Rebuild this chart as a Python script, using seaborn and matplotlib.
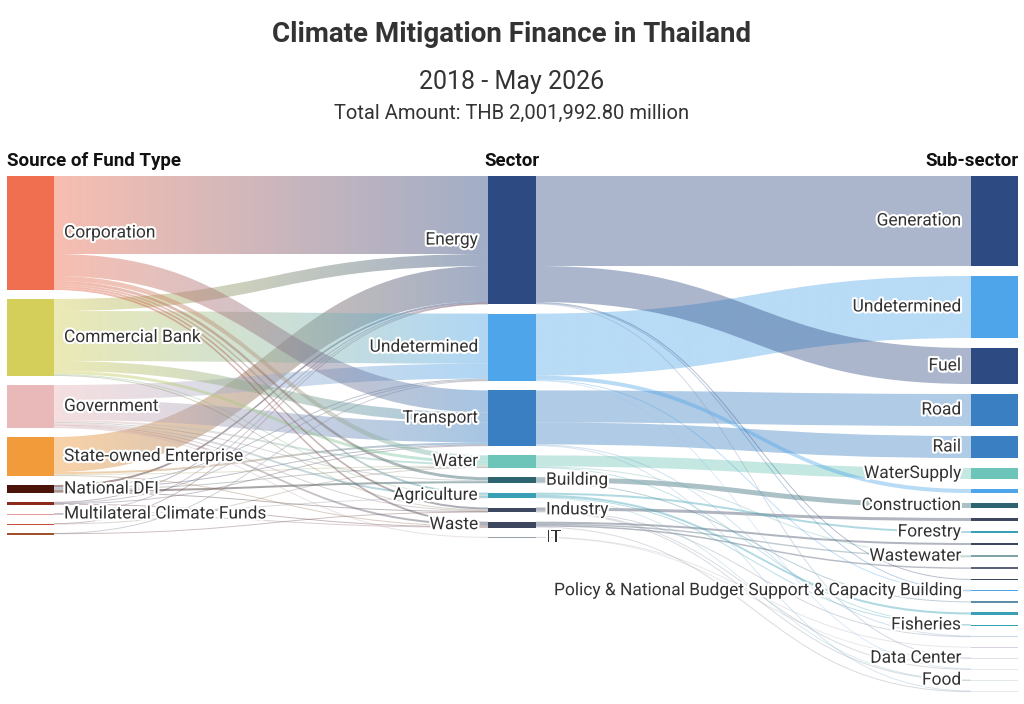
import numpy as np
import seaborn as sns
import matplotlib
import matplotlib.pyplot as plt
import matplotlib.patheffects as pe
from matplotlib.path import Path
from matplotlib.patches import PathPatch
from matplotlib.colors import to_rgb
matplotlib.use('Agg')

sns.set_theme(style="white")
plt.rcParams['font.family'] = ['Roboto', 'DejaVu Sans']

# values in units of roughly THB 7 bn (read off band widths)
sources = ["Corporation", "Commercial Bank", "Government", "State-owned Enterprise",
           "National DFI", "Bilateral DFI", "Multilateral Climate Funds", "Foreign Bank", "Other"]
source_colors = ["#ef6f50", "#d4cf5a", "#e9b8b8", "#f29b3b", "#4a140a",
                 "#8b2a1a", "#e89a9a", "#c44d3a", "#a0522d"]
source_labels = ["Corporation", "Commercial Bank", "Government", "State-owned Enterprise",
                 "National DFI", "", "Multilateral Climate Funds", "", ""]

sectors = ["Energy", "Undetermined", "Transport", "Water", "Building",
           "Agriculture", "Industry", "Waste", "IT"]
sector_colors = ["#2e4a82", "#4ea5e9", "#3a7fc1", "#6cc5b8", "#2d6470",
                 "#3aa0b5", "#3d4760", "#3d4760", "#9aa0a8"]
sector_label_side = ["L", "L", "L", "L", "R", "L", "R", "L", "R"]

subsectors = ["Generation", "Undetermined ", "Fuel", "Road", "Rail", "WaterSupply",
              "Efficiency", "Construction", "Manufacturing", "Forestry", "Landfill",
              "Wastewater", "Solid Waste", "Smart Grid",
              "Policy & National Budget Support & Capacity Building", "Green Building",
              "Irrigation", "Fisheries", "Logistics", "Digital", "Data Center",
              "Other", "Food", "Other Waste"]
subsector_colors = ["#2e4a82", "#4ea5e9", "#2e4a82", "#3a7fc1", "#3a7fc1", "#6cc5b8",
                    "#4ea5e9", "#2d6470", "#3d4760", "#3aa0b5", "#3d4760",
                    "#7fa3a8", "#5a6378", "#3d4760", "#4ea5e9", "#5f8fa8",
                    "#3aa0b5", "#3aa0b5", "#c8d8e8", "#d8d0e0", "#e0e0e8",
                    "#e8e8ee", "#e0e8e8", "#e8e8ee"]
subsector_labels = ["Generation", "Undetermined", "Fuel", "Road", "Rail", "WaterSupply",
                    "", "Construction", "", "Forestry", "", "Wastewater", "", "",
                    "Policy & National Budget Support & Capacity Building", "", "",
                    "Fisheries", "", "", "Data Center", "", "Food", ""]

flows_1 = [  # source, sector, value
    ("Corporation", "Energy", 78), ("Corporation", "Transport", 22), ("Corporation", "Water", 5),
    ("Corporation", "Building", 3), ("Corporation", "Agriculture", 2), ("Corporation", "Industry", 2),
    ("Corporation", "Waste", 2),
    ("Commercial Bank", "Energy", 12), ("Commercial Bank", "Undetermined", 50),
    ("Commercial Bank", "Transport", 10), ("Commercial Bank", "Water", 3),
    ("Commercial Bank", "Agriculture", 1), ("Commercial Bank", "Industry", 1),
    ("Government", "Undetermined", 15), ("Government", "Transport", 20), ("Government", "Water", 2),
    ("Government", "Building", 1), ("Government", "Agriculture", 2), ("Government", "Industry", 0.5),
    ("Government", "Waste", 2), ("Government", "IT", 0.5),
    ("State-owned Enterprise", "Energy", 35), ("State-owned Enterprise", "Transport", 2),
    ("State-owned Enterprise", "Water", 1), ("State-owned Enterprise", "Waste", 1),
    ("National DFI", "Energy", 2), ("National DFI", "Undetermined", 1), ("National DFI", "Transport", 1),
    ("National DFI", "Water", 1), ("National DFI", "Building", 2), ("National DFI", "Industry", 1),
    ("Bilateral DFI", "Energy", 0.5), ("Bilateral DFI", "Undetermined", 1),
    ("Bilateral DFI", "Transport", 0.5), ("Bilateral DFI", "Waste", 0.5),
    ("Multilateral Climate Funds", "Energy", 0.3), ("Multilateral Climate Funds", "Agriculture", 0.3),
    ("Multilateral Climate Funds", "Waste", 0.4),
    ("Foreign Bank", "Energy", 0.3), ("Foreign Bank", "Water", 0.3),
    ("Other", "Undetermined", 0.3), ("Other", "Industry", 0.2),
]

flows_2 = [  # sector, sub-sector, value
    ("Energy", "Generation", 90), ("Energy", "Fuel", 36), ("Energy", "Smart Grid", 1),
    ("Energy", "Policy & National Budget Support & Capacity Building", 0.6), ("Energy", "Data Center", 0.5),
    ("Undetermined", "Undetermined ", 62), ("Undetermined", "Efficiency", 4),
    ("Undetermined", "Policy & National Budget Support & Capacity Building", 0.9), ("Undetermined", "Other", 0.4),
    ("Transport", "Road", 32), ("Transport", "Rail", 22), ("Transport", "Logistics", 1),
    ("Transport", "Other Waste", 0.5),
    ("Water", "WaterSupply", 11), ("Water", "Wastewater", 1), ("Water", "Fisheries", 0.3),
    ("Building", "Construction", 5), ("Building", "Green Building", 1),
    ("Agriculture", "Forestry", 2), ("Agriculture", "Irrigation", 2.1), ("Agriculture", "Fisheries", 0.7),
    ("Agriculture", "Food", 0.5),
    ("Industry", "Manufacturing", 3), ("Industry", "Other", 0.7), ("Industry", "Food", 0.5),
    ("Industry", "Logistics", 0.5),
    ("Waste", "Landfill", 2), ("Waste", "Solid Waste", 1.5), ("Waste", "Wastewater", 1.4),
    ("Waste", "Other Waste", 1),
    ("IT", "Digital", 0.3), ("IT", "Data Center", 0.2),
]

fig = plt.figure(figsize=(10.24, 7.04), dpi=100)
ax = fig.add_axes([0, 0, 1, 1])
ax.set_xlim(0, 1024)
ax.set_ylim(704, 0)
ax.axis("off")

cols = [(sources, source_colors, 7, 54, 9),
        (sectors, sector_colors, 488, 536, 9.5),
        (subsectors, subsector_colors, 971, 1018, 10)]
all_flows = flows_1 + flows_2


def layout(names, x0, x1, gap):
    pos = {}
    y = 176
    for n in names:
        vin = sum(v for s, t, v in all_flows if t == n)
        vout = sum(v for s, t, v in all_flows if s == n)
        h = max(vin, vout, 0.8)
        pos[n] = [x0, x1, y, y + h]
        y += h + gap
    return pos


nodes = [layout(n, a, b, g) for n, c, a, b, g in cols]
colors = [dict(zip(n, c)) for n, c, a, b, g in cols]


def draw_links(flows, src, dst, scol, dcol, src_order, dst_order, alpha):
    out_y = {n: src[n][2] for n in src}
    in_y = {n: dst[n][2] for n in dst}
    out_sorted = sorted(flows, key=lambda f: (src_order.index(f[0]), dst_order.index(f[1])))
    starts = {}
    for s, t, v in out_sorted:
        starts[(s, t)] = out_y[s]
        out_y[s] += v
    in_sorted = sorted(flows, key=lambda f: (dst_order.index(f[1]), src_order.index(f[0])))
    for s, t, v in in_sorted:
        x0, x1 = src[s][1], dst[t][0]
        ya, yb = starts[(s, t)], in_y[t]
        in_y[t] += v
        xm = (x0 + x1) / 2
        c0, c1 = np.array(to_rgb(scol[s])), np.array(to_rgb(dcol[t]))
        if v < 1.2:
            # thin links: a single hairline curve
            mid = [(x0, ya + v / 2), (xm, ya + v / 2), (xm, yb + v / 2), (x1, yb + v / 2)]
            ax.add_patch(PathPatch(Path(mid, [Path.MOVETO] + [Path.CURVE4] * 3), facecolor="none",
                                   edgecolor=tuple((c0 + c1) / 2), alpha=0.35, lw=0.7, zorder=1))
            continue
        verts = [(x0, ya), (xm, ya), (xm, yb), (x1, yb), (x1, yb + v),
                 (xm, yb + v), (xm, ya + v), (x0, ya + v), (x0, ya)]
        codes = [Path.MOVETO, Path.CURVE4, Path.CURVE4, Path.CURVE4, Path.LINETO,
                 Path.CURVE4, Path.CURVE4, Path.CURVE4, Path.CLOSEPOLY]
        patch = PathPatch(Path(verts, codes), facecolor="none", edgecolor="none")
        ax.add_patch(patch)
        tt = np.linspace(0, 1, 128)[:, None]
        grad = np.concatenate([c0 * (1 - tt) + c1 * tt, np.full((128, 1), alpha)], axis=1)
        im = ax.imshow(grad[None, :, :], extent=[x0, x1, max(ya, yb) + v + 1, min(ya, yb) - 1],
                       aspect="auto", interpolation="bilinear", zorder=1)
        im.set_clip_path(patch)


draw_links(flows_1, nodes[0], nodes[1], colors[0], colors[1], sources, sectors, 0.45)
draw_links(flows_2, nodes[1], nodes[2], colors[1], colors[2], sectors, subsectors, 0.4)

for pos, col in zip(nodes, colors):
    for n, (x0, x1, y0, y1) in pos.items():
        ax.add_patch(plt.Rectangle((x0, y0), x1 - x0, max(y1 - y0, 1.2), color=col[n], lw=0, zorder=3))

halo = [pe.withStroke(linewidth=3, foreground="white")]
tkw = dict(fontsize=12.5, color="#333333", va="center", zorder=5, path_effects=halo)
for n, lab in zip(sources, source_labels):
    x0, x1, y0, y1 = nodes[0][n]
    if lab:
        ax.text(64, (y0 + y1) / 2, lab, ha="left", **tkw)
for n, side in zip(sectors, sector_label_side):
    x0, x1, y0, y1 = nodes[1][n]
    if side == "L":
        ax.text(478, (y0 + y1) / 2, n, ha="right", **tkw)
    else:
        ax.text(546, (y0 + y1) / 2, n, ha="left", **tkw)
for n, lab in zip(subsectors, subsector_labels):
    x0, x1, y0, y1 = nodes[2][n]
    if lab:
        ax.text(961, (y0 + y1) / 2, lab, ha="right", **tkw)

ax.text(512, 35, "Climate Mitigation Finance in Thailand", ha="center", va="center",
        fontsize=20, fontweight="bold", color="#333333")
ax.text(512, 82, "2018 - May 2026", ha="center", va="center", fontsize=18, color="#333333")
ax.text(512, 113, "Total Amount: THB 2,001,992.80 million", ha="center", va="center",
        fontsize=14.5, color="#333333")
hkw = dict(fontsize=13.5, fontweight="bold", color="#111111", va="center")
ax.text(7, 161, "Source of Fund Type", ha="left", **hkw)
ax.text(512, 161, "Sector", ha="center", **hkw)
ax.text(1018, 161, "Sub-sector", ha="right", **hkw)

fig.savefig("out.png", dpi=100)
